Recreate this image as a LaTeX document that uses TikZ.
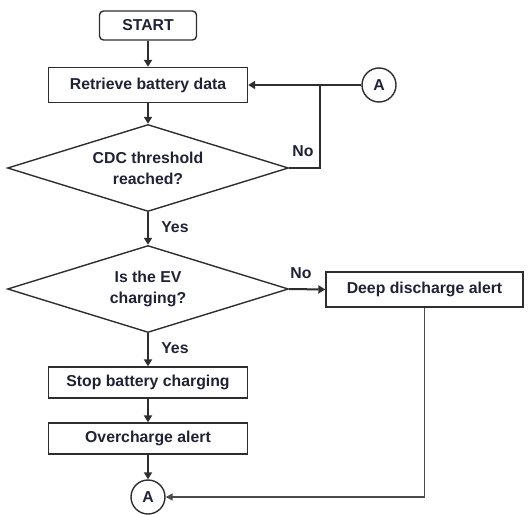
\documentclass[tikz,border=0pt]{standalone}
\usepackage{fontspec}
\setmainfont{Liberation Sans}
\usetikzlibrary{shapes.geometric,arrows.meta}
\definecolor{txt}{HTML}{1F2235}
\definecolor{ln}{HTML}{2E2E2E}
\definecolor{lg}{HTML}{4A4A4A}
\begin{document}
\begin{tikzpicture}[x=1pt,y=-1pt,
  every node/.style={font=\fontsize{15.8}{21}\selectfont\bfseries, text=txt},
  box/.style={draw=ln, line width=1.4pt, minimum width=199pt, minimum height=35pt, inner sep=0pt},
  startbox/.style={draw=ln, line width=1.4pt, rounded corners=4pt, minimum width=97pt, minimum height=29pt, inner sep=0pt},
  decision/.style={draw=ln, line width=1.4pt, diamond, aspect=3.2, minimum width=281pt, minimum height=87pt, inner sep=0pt, align=center},
  conn/.style={draw=ln, line width=1.4pt, circle, minimum size=34pt, inner sep=0pt},
  flow/.style={draw=ln, line width=2.6pt, -{Triangle[length=7pt,width=8pt]}},
  back/.style={draw=ln, line width=2pt},
  thin/.style={draw=lg, line width=1.5pt},
  lbl/.style={inner sep=0pt}
]
\useasboundingbox (0,0) rectangle (532,514);
\node[startbox] (start) at (148,25.5) {START};
\node[box] (ret) at (148,85) {Retrieve battery data};
\node[conn] (A1) at (379,85) {A};
\node[decision] (d1) at (148,168) {CDC threshold\\reached?};
\node[decision] (d2) at (148,289) {Is the EV\\charging?};
\node[box, minimum width=197pt] (deep) at (424.5,289.5) {Deep discharge alert};
\node[box, minimum height=31pt] (stop) at (148,382.5) {Stop battery charging};
\node[box, minimum height=31pt] (over) at (148,438.5) {Overcharge alert};
\node[conn] (A2) at (148,497) {A};
\coordinate (j) at (320,85);

\draw[flow] (start) -- (ret);
\draw[flow] (ret) -- (d1);
\draw[flow] (d1) -- node[lbl, right=12pt, pos=0.45] {Yes} (d2);
\draw[flow] (d2) -- node[lbl, right=12pt, pos=0.45] {Yes} (stop);
\draw[flow] (stop) -- (over);
\draw[flow] (over) -- (A2);
\draw[back, -{Triangle[length=7pt,width=8pt]}] (A1) -- (ret);
\draw[back] (d1.east) -- (d1.east -| j) -- (j);
\node[lbl] at (303,151) {No};
\draw[back, -{Triangle[length=7pt,width=8pt]}] (d2.east) -- (deep.west);
\node[lbl] at (301,273) {No};
\draw[thin, -{Triangle[length=7pt,width=7pt]}] (deep.south) |- (A2.east);
\end{tikzpicture}
\end{document}
